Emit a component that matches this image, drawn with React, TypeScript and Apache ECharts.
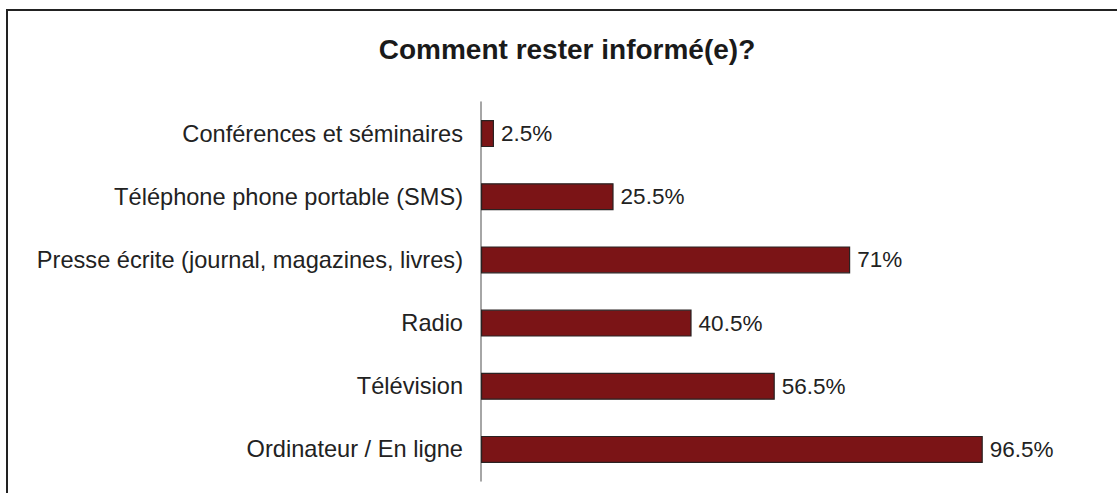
import React, { useEffect, useRef } from "react";
import * as echarts from "echarts";

const categories = [
  "Ordinateur / En ligne",
  "Télévision",
  "Radio",
  "Presse écrite (journal, magazines, livres)",
  "Téléphone phone portable (SMS)",
  "Conférences et séminaires",
];
const values = [96.5, 56.5, 40.5, 71, 25.5, 2.5];
const titleText = "Comment rester informé(e)?";

export default function App() {
  const ref = useRef<HTMLDivElement>(null);
  useEffect(() => {
    if (!ref.current) return;
    const chart = echarts.init(ref.current, null, { renderer: "svg" });
    chart.setOption({
      animation: false,
      backgroundColor: "#ffffff",
      textStyle: { fontFamily: "Liberation Sans, Arial, sans-serif" },
      title: {
        text: titleText,
        left: 562,
        top: 30,
        textAlign: "center",
        textStyle: {
          fontFamily: "Liberation Sans, Arial, sans-serif",
          fontSize: 28,
          fontWeight: "bold",
          color: "#1a1a1a",
        },
      },
      graphic: [
        {
          type: "rect",
          shape: { x: 7, y: 10, width: 1200, height: 600 },
          style: { fill: "none", stroke: "#222", lineWidth: 2 },
          silent: true,
        },
      ],
      grid: { left: 481, top: 102, width: 520, height: 379, containLabel: false },
      xAxis: {
        type: "value",
        min: 0,
        max: 100,
        show: false,
      },
      yAxis: {
        type: "category",
        data: categories,
        axisLine: { show: true, lineStyle: { color: "#888", width: 1.5 } },
        axisTick: { show: false },
        axisLabel: {
          fontFamily: "Liberation Sans, Arial, sans-serif",
          fontSize: 23.6,
          color: "#222",
          margin: 18,
        },
      },
      series: [
        {
          type: "bar",
          data: values,
          barWidth: 27,
          itemStyle: { color: "#7b1416", borderColor: "#2a2222", borderWidth: 1.2 },
          label: {
            show: true,
            position: "right",
            distance: 7,
            formatter: (p: any) => p.value + "%",
            fontFamily: "Liberation Sans, Arial, sans-serif",
            fontSize: 22.5,
            color: "#222",
          },
        },
      ],
    });
    return () => chart.dispose();
  }, []);
  return (
    <div
      ref={ref}
      style={{ position: "fixed", left: 0, top: 0, width: 1117, height: 493 }}
    />
  );
}
